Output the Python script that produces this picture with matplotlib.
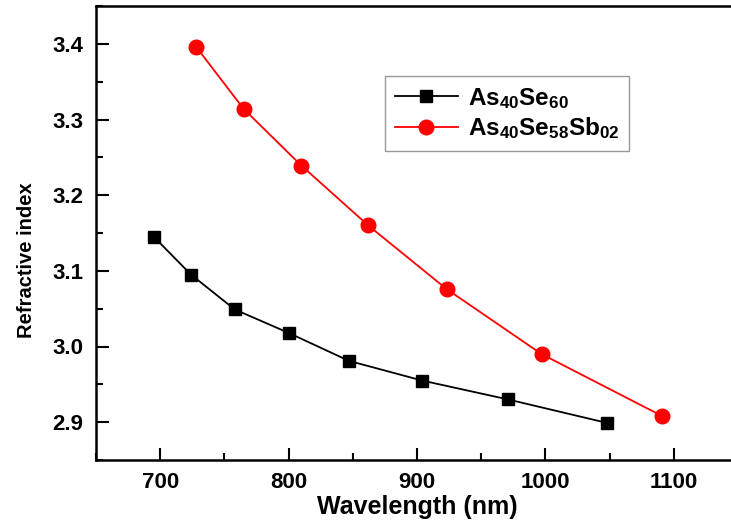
import numpy as np
import matplotlib
matplotlib.use("Agg")
import matplotlib.pyplot as plt
from matplotlib.ticker import MultipleLocator

plt.rcParams['font.family'] = ['Liberation Sans', 'DejaVu Sans']
plt.rcParams['mathtext.fontset'] = 'custom'
plt.rcParams['mathtext.bf'] = 'Liberation Sans:bold'
plt.rcParams['mathtext.rm'] = 'Liberation Sans:bold'

# As40Se60
wl_a = [695, 724, 758, 800, 847, 904, 971, 1048]
n_a = [3.145, 3.095, 3.049, 3.018, 2.981, 2.955, 2.930, 2.899]
# As40Se58Sb02
wl_b = [728, 765, 810, 862, 923, 997, 1091]
n_b = [3.396, 3.314, 3.239, 3.160, 3.076, 2.990, 2.908]

labels = [r'$\mathbf{As_{40}Se_{60}}$', r'$\mathbf{As_{40}Se_{58}Sb_{02}}$']

W, H = 731, 520
fig = plt.figure(figsize=(W / 100, H / 100), dpi=100)
# right edge of the axes falls just outside the picture
ax = fig.add_axes([96 / W, 1 - 460 / H, (738 - 96) / W, (460 - 6) / H])

ax.plot(wl_a, n_a, color='black', lw=1.3, marker='s', ms=9, label=labels[0])
ax.plot(wl_b, n_b, color='red', lw=1.3, marker='o', ms=10.5, label=labels[1])

ax.set_xlim(650, 1150)
ax.set_ylim(2.85, 3.45)
ax.xaxis.set_major_locator(MultipleLocator(100))
ax.xaxis.set_minor_locator(MultipleLocator(50))
ax.yaxis.set_major_locator(MultipleLocator(0.1))
ax.yaxis.set_minor_locator(MultipleLocator(0.05))
ax.yaxis.set_major_formatter(plt.FormatStrFormatter('%.1f'))

ax.tick_params(which='both', direction='in', width=1.5, top=False, right=False)
ax.tick_params(which='major', length=9, labelsize=16, pad=9)
ax.tick_params(which='minor', length=5)
for lab in ax.get_xticklabels() + ax.get_yticklabels():
    lab.set_fontweight('bold')

for s in ax.spines.values():
    s.set_linewidth(1.8)

ax.set_xlabel('Wavelength (nm)', fontsize=18, fontweight='bold', labelpad=1)
ax.set_ylabel('Refractive index', fontsize=14.5, fontweight='bold')
ax.yaxis.set_label_coords(-0.093, 0.44)

leg = ax.legend(loc='upper left', bbox_to_anchor=(385 / W, 1 - 76 / H),
                bbox_transform=fig.transFigure, borderaxespad=0,
                fontsize=17.5, handlelength=2.6, fancybox=False,
                frameon=True, edgecolor='gray', borderpad=0.4,
                labelspacing=0.2, handletextpad=0.4)
leg.get_frame().set_linewidth(1.0)

fig.savefig('out.png', dpi=100)
